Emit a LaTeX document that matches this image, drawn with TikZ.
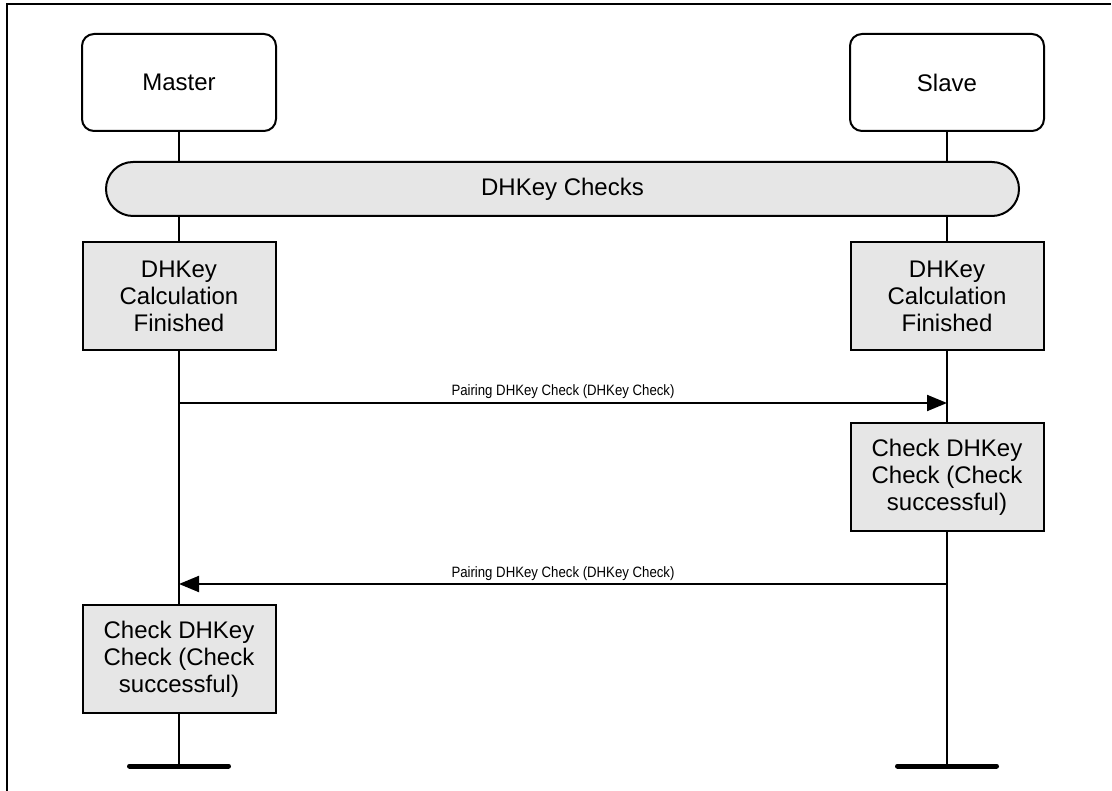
\documentclass[tikz,border=0pt]{standalone}
\usepackage{fontspec}
\setmainfont{Liberation Sans}
\usetikzlibrary{arrows.meta}
\definecolor{boxgray}{RGB}{230,230,230}
\begin{document}
\begin{tikzpicture}[x=1pt,y=-1pt,
  lw/.style={line width=2pt},
  bigfont/.style={font=\fontsize{24}{27}\selectfont},
  actor/.style={draw,lw,rounded corners=12pt,minimum width=194pt,minimum height=97pt,inner sep=0pt,bigfont},
  proc/.style={draw,lw,fill=boxgray,minimum width=193pt,minimum height=108pt,inner sep=0pt,align=center,bigfont},
  phase/.style={draw,lw,fill=boxgray,rounded corners=27pt,minimum width=913pt,minimum height=54pt,inner sep=0pt,bigfont},
  msg/.style={lw,-{Triangle[length=20pt,width=16pt]}},
  lbl/.style={font=\fontsize{15}{17}\selectfont,inner sep=0pt,anchor=base},
  endbar/.style={line width=5pt,line cap=round}]
\useasboundingbox (0,0) rectangle (1112,791);
\draw[lw] (7,791) -- (7,4) -- (1111,4);

\node[actor] (master) at (179,82.5) {Master};
\node[actor] (slave) at (947,82.5) {Slave};
\node[phase] (phase) at (562.5,189) {DHKey Checks};
\node[proc] (calcM) at (179,296.5) {DHKey\\Calculation\\Finished};
\node[proc] (calcS) at (947,296.5) {DHKey\\Calculation\\Finished};
\node[proc] (chkS) at (947,477.5) {Check DHKey\\Check (Check\\successful)};
\node[proc] (chkM) at (179,659) {Check DHKey\\Check (Check\\successful)};

\coordinate (endM) at (179,766);
\coordinate (endS) at (947,766);
\coordinate (m1) at (179,403);
\coordinate (s1) at (947,403);
\coordinate (m2) at (179,584);
\coordinate (s2) at (947,584);

\draw[lw] (master.south) -- (master.south |- phase.north);
\draw[lw] (master.south |- phase.south) -- (calcM.north);
\draw[lw] (calcM.south) -- (chkM.north);
\draw[lw] (chkM.south) -- (endM);
\draw[lw] (slave.south) -- (slave.south |- phase.north);
\draw[lw] (slave.south |- phase.south) -- (calcS.north);
\draw[lw] (calcS.south) -- (chkS.north);
\draw[lw] (chkS.south) -- (endS);

\draw[endbar] ([xshift=-49.5pt]endM) -- ([xshift=49.5pt]endM);
\draw[endbar] ([xshift=-49.5pt]endS) -- ([xshift=49.5pt]endS);

\draw[msg] (m1) -- (s1);
\node[lbl] (l1) at (563,396) {\scalebox{0.88}[1]{Pairing DHKey Check (DHKey Check)}};
\draw[msg] (s2) -- (m2);
\node[lbl] (l2) at (563,577) {\scalebox{0.88}[1]{Pairing DHKey Check (DHKey Check)}};
\end{tikzpicture}
\end{document}
